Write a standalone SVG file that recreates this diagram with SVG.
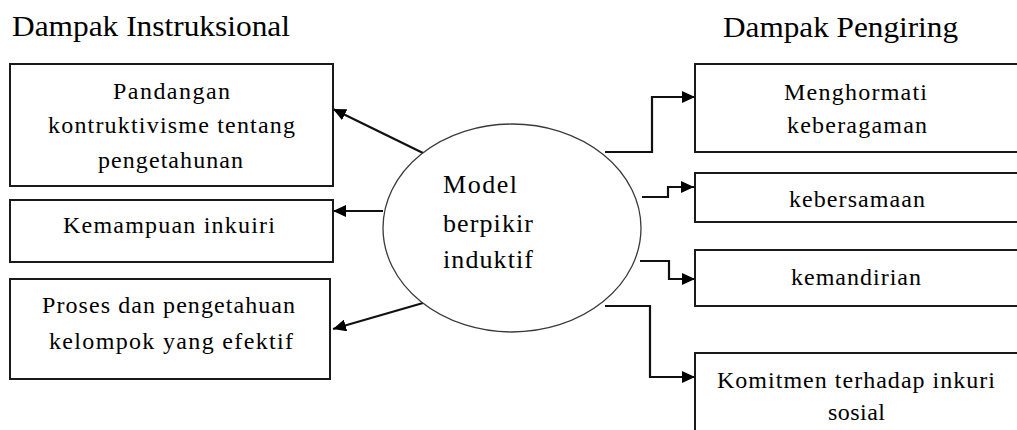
<svg xmlns="http://www.w3.org/2000/svg" width="1017" height="430" viewBox="0 0 1017 430">
<style>
.box{fill:#fff;stroke:#1a1a1a;stroke-width:2}
.ell{fill:#fff;stroke:#3a3a3a;stroke-width:1.3}
.t{font-family:"Liberation Serif","Times New Roman",serif;font-size:24px;fill:#000}
.te{font-family:"Liberation Serif","Times New Roman",serif;font-size:26px;fill:#000}
.h{font-family:"Liberation Serif","Times New Roman",serif;font-size:30px;fill:#000}
.c{fill:none;stroke:#111;stroke-width:2.2}
</style>
<defs>
<marker id="ah" markerUnits="userSpaceOnUse" markerWidth="14" markerHeight="12" refX="13" refY="6" orient="auto">
<path d="M0,0 L13,6 L0,12 z" fill="#000"/>
</marker>
</defs>
<rect width="1017" height="430" fill="#fff"/>
<g id="headers">
<text class="h" x="12" y="36" textLength="278" lengthAdjust="spacingAndGlyphs">Dampak Instruksional</text>
<text class="h" x="723" y="37" textLength="235" lengthAdjust="spacingAndGlyphs">Dampak Pengiring</text>
</g>
<g id="connectors">
<line class="c" x1="423" y1="153" x2="333" y2="109" marker-end="url(#ah)"/>
<line class="c" x1="383" y1="211" x2="333" y2="211" marker-end="url(#ah)"/>
<line class="c" x1="423" y1="303" x2="333" y2="329" marker-end="url(#ah)"/>
<polyline class="c" points="605,152 652,152 652,97 695,97" marker-end="url(#ah)"/>
<polyline class="c" points="642,197 668,197 668,187 694,187" marker-end="url(#ah)"/>
<polyline class="c" points="640,261 669,261 669,279 695,279" marker-end="url(#ah)"/>
<polyline class="c" points="605,306 650,306 650,377 695,377" marker-end="url(#ah)"/>
</g>
<g id="center">
<ellipse class="ell" cx="512" cy="228" rx="129" ry="104"/>
<text class="te" x="443" y="193" textLength="74" lengthAdjust="spacing">Model</text>
<text class="te" x="443" y="232" textLength="90" lengthAdjust="spacing">berpikir</text>
<text class="te" x="443" y="268" textLength="90" lengthAdjust="spacing">induktif</text>
</g>
<g id="left1">
<rect class="box" x="10" y="64" width="323" height="122"/>
<text class="t" x="113" y="99" textLength="117" lengthAdjust="spacing">Pandangan</text>
<text class="t" x="48" y="133" textLength="247" lengthAdjust="spacing">kontruktivisme tentang</text>
<text class="t" x="98" y="168" textLength="145" lengthAdjust="spacing">pengetahunan</text>
</g>
<g id="left2">
<rect class="box" x="10" y="200" width="323" height="62"/>
<text class="t" x="63" y="233" textLength="212" lengthAdjust="spacing">Kemampuan inkuiri</text>
</g>
<g id="left3">
<rect class="box" x="10" y="279" width="320" height="100"/>
<text class="t" x="42" y="313" textLength="253" lengthAdjust="spacing">Proses dan pengetahuan</text>
<text class="t" x="49" y="349" textLength="244" lengthAdjust="spacing">kelompok yang efektif</text>
</g>
<g id="right1">
<rect class="box" x="695" y="64" width="340" height="88"/>
<text class="t" x="784" y="100" textLength="143" lengthAdjust="spacing">Menghormati</text>
<text class="t" x="787" y="133" textLength="140" lengthAdjust="spacing">keberagaman</text>
</g>
<g id="right2">
<rect class="box" x="695" y="173" width="340" height="49"/>
<text class="t" x="789" y="207" textLength="136" lengthAdjust="spacing">kebersamaan</text>
</g>
<g id="right3">
<rect class="box" x="695" y="250" width="340" height="56"/>
<text class="t" x="791" y="285" textLength="130" lengthAdjust="spacing">kemandirian</text>
</g>
<g id="right4">
<rect class="box" x="695" y="353" width="340" height="100"/>
<text class="t" x="717" y="388" textLength="278" lengthAdjust="spacing">Komitmen terhadap inkuri</text>
<text class="t" x="828" y="420" textLength="57" lengthAdjust="spacing">sosial</text>
</g>
</svg>
